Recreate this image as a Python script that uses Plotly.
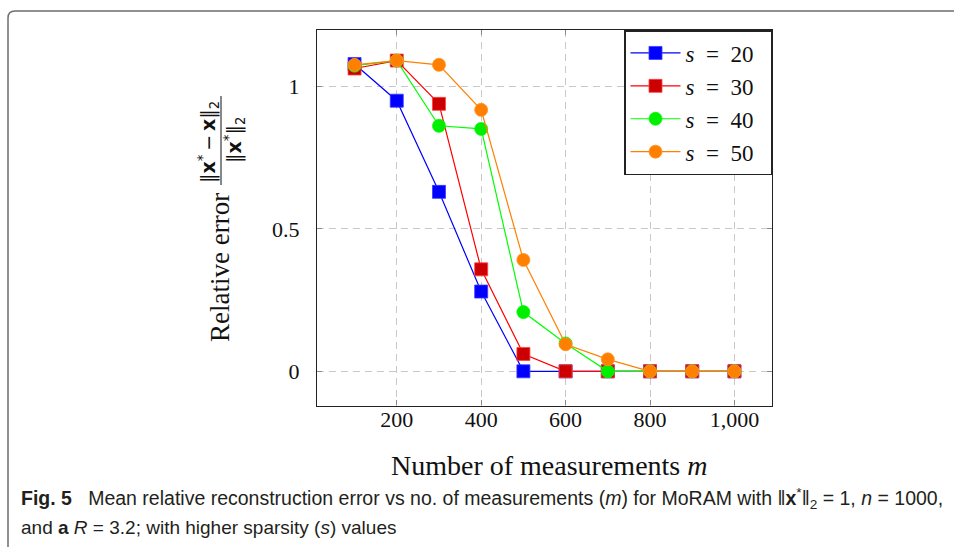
import plotly.graph_objects as go

# ---- data ----
m_values = [100, 200, 300, 400, 500, 600, 700, 800, 900, 1000]
err_s20 = [1.079, 0.950, 0.630, 0.280, 0.000, 0.000, 0.000, 0.000, 0.000, 0.000]
err_s30 = [1.063, 1.091, 0.939, 0.358, 0.061, 0.000, 0.000, 0.000, 0.000, 0.000]
err_s40 = [1.073, 1.091, 0.862, 0.851, 0.208, 0.098, 0.000, 0.000, 0.000, 0.000]
err_s50 = [1.076, 1.091, 1.076, 0.918, 0.391, 0.095, 0.042, 0.000, 0.000, 0.000]
series_names = ["<i>s</i>\u00a0\u00a0=\u00a0\u00a020\u00a0\u00a0", "<i>s</i>\u00a0\u00a0=\u00a0\u00a030\u00a0\u00a0",
                "<i>s</i>\u00a0\u00a0=\u00a0\u00a040\u00a0\u00a0", "<i>s</i>\u00a0\u00a0=\u00a0\u00a050\u00a0\u00a0"]
x_tickvals = [200, 400, 600, 800, 1000]
x_ticktext = ["200", "400", "600", "800", "1,000"]
y_tickvals = [0, 0.5, 1]
y_ticktext = ["0", "0.5", "1"]

W, H = 954, 547
SERIF = "Liberation Serif, Times New Roman, serif"
SANS = "Liberation Sans, Arial, sans-serif"

def px(x):
    return x / W

def py(y):
    return 1 - y / H

styles = [
    dict(line="#0000ff", fill="#0000ff", edge="#3a3aff", symbol="square"),
    dict(line="#ff0000", fill="#cc0000", edge="#ff4040", symbol="square"),
    dict(line="#00ff00", fill="#00ee00", edge="#00ff00", symbol="circle"),
    dict(line="#ff8000", fill="#ff8000", edge="#ff9020", symbol="circle"),
]
all_series = [err_s20, err_s30, err_s40, err_s50]

fig = go.Figure()
for name, vals, st in zip(series_names, all_series, styles):
    fig.add_trace(go.Scatter(
        x=m_values, y=vals, name=name, mode="lines+markers",
        line=dict(color=st["line"], width=1.2),
        marker=dict(symbol=st["symbol"], size=13, color=st["fill"],
                    line=dict(color=st["edge"], width=0.8)),
    ))

grid = dict(showgrid=True, gridcolor="#c8c8c8", gridwidth=1, griddash="7px,5px")
common = dict(
    ticks="inside", ticklen=5, tickcolor="#8a8a8a", tickwidth=1,
    showline=True, linecolor="#222", linewidth=1.2, mirror="ticks",
    zeroline=False, tickfont=dict(family=SERIF, size=22, color="#111"),
)
fig.update_xaxes(
    range=[11, 1089], domain=[px(317), px(772)],
    tickvals=x_tickvals, ticktext=x_ticktext, ticklabelstandoff=-6,
    **common, **grid,
)
fig.update_yaxes(
    range=[-0.12, 1.2], domain=[py(405.5), py(29.5)],
    tickvals=y_tickvals, ticktext=y_ticktext, ticklabelstandoff=12,
    **common, **grid,
)

annotations = [
    dict(text="Number of measurements <i>m</i>", x=px(549), y=py(465),
         font=dict(family=SERIF, size=28, color="#111")),
    dict(text="Relative error", x=px(220), y=py(268), textangle=-90,
         font=dict(family=SERIF, size=27, color="#111")),
    dict(text="‖<b>x</b><sup>*</sup>\u2009−\u2009<b>x</b>‖<sub>2</sub>", x=px(209), y=py(142), textangle=-90,
         font=dict(family="DejaVu Sans, sans-serif", size=19, color="#111")),
    dict(text="‖<b>x</b><sup>*</sup>‖<sub>2</sub>", x=px(234), y=py(140), textangle=-90,
         font=dict(family="DejaVu Sans, sans-serif", size=19, color="#111")),
    dict(text="<b>Fig. 5</b>\u00a0\u00a0 Mean relative reconstruction error vs no. of measurements (<i>m</i>) for MoRAM with ‖<b>x</b><sup>*</sup>‖<sub>2</sub>\u00a0=\u00a01,\u00a0<i>n</i>\u00a0=\u00a01000,",
         x=px(19), y=py(498), xanchor="left",
         font=dict(family=SANS, size=19.5, color="#231f20")),
    dict(text="and <b>a</b> <i>R</i> = 3.2; with higher sparsity (<i>s</i>) values",
         x=px(19), y=py(527), xanchor="left",
         font=dict(family=SANS, size=19, color="#231f20")),
]
for a in annotations:
    a.setdefault("xanchor", "center")
    a.update(xref="paper", yref="paper", yanchor="middle", showarrow=False)

r = 7
frame_path = (f"M {px(8)},{py(560)} L {px(8)},{py(11 + r)} "
              f"Q {px(8)},{py(11)} {px(8 + r)},{py(11)} L {px(980)},{py(11)}")
shapes = [
    dict(type="path", path=frame_path, xref="paper", yref="paper",
         line=dict(color="#6e6e6e", width=1.5)),
    dict(type="line", xref="paper", yref="paper", x0=px(221), x1=px(221),
         y0=py(96), y1=py(185), line=dict(color="#111", width=1)),
]

fig.update_layout(
    width=W, height=H, margin=dict(l=0, r=0, t=0, b=0),
    paper_bgcolor="white", plot_bgcolor="white",
    annotations=annotations, shapes=shapes,
    legend=dict(x=px(772), y=py(30), xanchor="right", yanchor="top",
                bordercolor="#222", borderwidth=1.5, bgcolor="white",
                font=dict(family=SERIF, size=23, color="#111"),
                itemwidth=50, tracegroupgap=0),
    showlegend=True,
)

fig.write_html("out.html", config={"displayModeBar": False},
               post_script="document.body.style.margin='0';")
